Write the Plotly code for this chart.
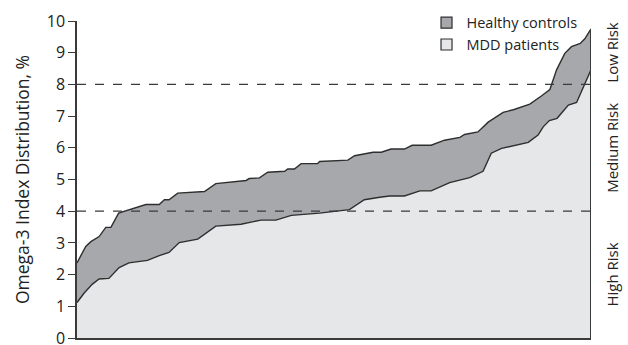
import plotly.graph_objects as go

# Rank position (percent of sorted sample) and omega-3 index values
healthy_rank = [0, 1.7, 2.7, 4.3, 5.6, 6.6, 8.1, 9.2, 13.4, 16.0, 17.0, 17.9, 19.6, 24.8, 27.0,
                32.9, 33.5, 35.5, 37.1, 40.4, 41.0, 42.3, 43.6, 46.8, 47.2, 52.7, 54.0, 57.6,
                59.2, 61.1, 63.7, 65.2, 68.9, 71.5, 74.5, 75.4, 78.0, 80.0, 82.9, 84.9, 88.1,
                90.4, 92.0, 93.3, 94.9, 96.2, 97.9, 98.8, 100]
healthy_vals = [2.37, 2.89, 3.04, 3.20, 3.49, 3.49, 3.94, 4.00, 4.21, 4.21, 4.36, 4.36, 4.57, 4.62, 4.87,
                4.97, 5.03, 5.05, 5.23, 5.26, 5.33, 5.33, 5.50, 5.50, 5.57, 5.61, 5.75, 5.86,
                5.86, 5.96, 5.96, 6.08, 6.08, 6.24, 6.33, 6.42, 6.50, 6.81, 7.12, 7.20, 7.38,
                7.64, 7.84, 8.46, 8.98, 9.19, 9.29, 9.44, 9.75]

mdd_rank = [0, 1.4, 3.0, 4.3, 6.2, 8.2, 10.1, 13.7, 16.0, 17.9, 19.9, 23.5, 27.0, 31.9, 35.8,
            38.7, 41.7, 47.2, 53.0, 55.9, 58.9, 60.8, 63.7, 66.7, 68.9, 72.5, 76.4, 79.0,
            80.6, 82.6, 87.8, 89.7, 90.7, 91.9, 93.4, 95.6, 97.2, 98.8, 100]
mdd_vals = [1.12, 1.42, 1.70, 1.86, 1.88, 2.22, 2.37, 2.45, 2.60, 2.70, 3.01, 3.12, 3.53, 3.59, 3.72,
            3.72, 3.87, 3.94, 4.05, 4.36, 4.44, 4.48, 4.48, 4.64, 4.64, 4.90, 5.06, 5.26,
            5.83, 5.98, 6.17, 6.40, 6.66, 6.86, 6.93, 7.35, 7.43, 8.05, 8.46]

series_names = ["Healthy controls", "MDD patients"]
risk_labels = ["Low Risk", "Medium Risk", "High Risk"]
risk_centers = [9, 6, 2]
thresholds = [4, 8]

FONT = "Open Sans"
DARK = "#a7a8ab"
LIGHT = "#e6e7e9"
LINE = "#2e2e2e"

fig = go.Figure()
fig.add_trace(go.Scatter(x=healthy_rank, y=healthy_vals, mode="lines", fill="tozeroy",
                         fillcolor=DARK, line=dict(color=LINE, width=1.4), showlegend=False,
                         hoverinfo="skip"))
fig.add_trace(go.Scatter(x=mdd_rank, y=mdd_vals, mode="lines", fill="tozeroy",
                         fillcolor=LIGHT, line=dict(color=LINE, width=1.4), showlegend=False,
                         hoverinfo="skip"))
# legend entries
for name, col in zip(series_names, [DARK, LIGHT]):
    fig.add_trace(go.Scatter(x=[None], y=[None], mode="markers", name=name,
                             marker=dict(symbol="square", size=11, color=col,
                                         line=dict(color=LINE, width=1.2))))

for t in thresholds:
    fig.add_shape(type="line", xref="x", yref="y", x0=0, x1=100, y0=t, y1=t,
                  line=dict(color="#3a3a3a", width=1.3, dash="dash"), layer="above")

for lab, c in zip(risk_labels, risk_centers):
    fig.add_annotation(x=1, xref="paper", xshift=21, y=c, yref="y", text=lab, textangle=-90,
                       showarrow=False, xanchor="center",
                       font=dict(family=FONT, size=15, color="#222"))

fig.update_layout(
    width=628, height=345,
    margin=dict(l=77, r=37, t=18, b=7),
    paper_bgcolor="white", plot_bgcolor="white",
    font=dict(family=FONT, color="#222"),
    legend=dict(x=0.68, y=1.045, xanchor="left", yanchor="top", bgcolor="rgba(0,0,0,0)",
                font=dict(family=FONT, size=14.5), itemwidth=30, tracegroupgap=0),
    xaxis=dict(range=[0, 100], showticklabels=False, ticks="", showgrid=False, zeroline=False,
               showline=True, linecolor="#3a3a3a", linewidth=2, mirror=False, fixedrange=True,
               automargin=False),
    yaxis=dict(range=[0, 10], dtick=1, ticks="outside", ticklen=7, tickwidth=1.2, tickcolor="#3a3a3a",
               showgrid=False, zeroline=False, showline=True, linecolor="#3a3a3a", linewidth=1.5,
               ticklabeloverflow="allow", automargin=False,
               tickfont=dict(family=FONT, size=16, color="#222"),
               title=dict(text="Omega-3 Index Distribution, %", font=dict(family=FONT, size=17.5),
                          standoff=13)),
    showlegend=True,
)
# right spine
fig.add_shape(type="line", xref="x", yref="y", x0=100, x1=100, y0=0, y1=9.75,
              line=dict(color="#3a3a3a", width=2), layer="above")

fig.write_html("out.html")
